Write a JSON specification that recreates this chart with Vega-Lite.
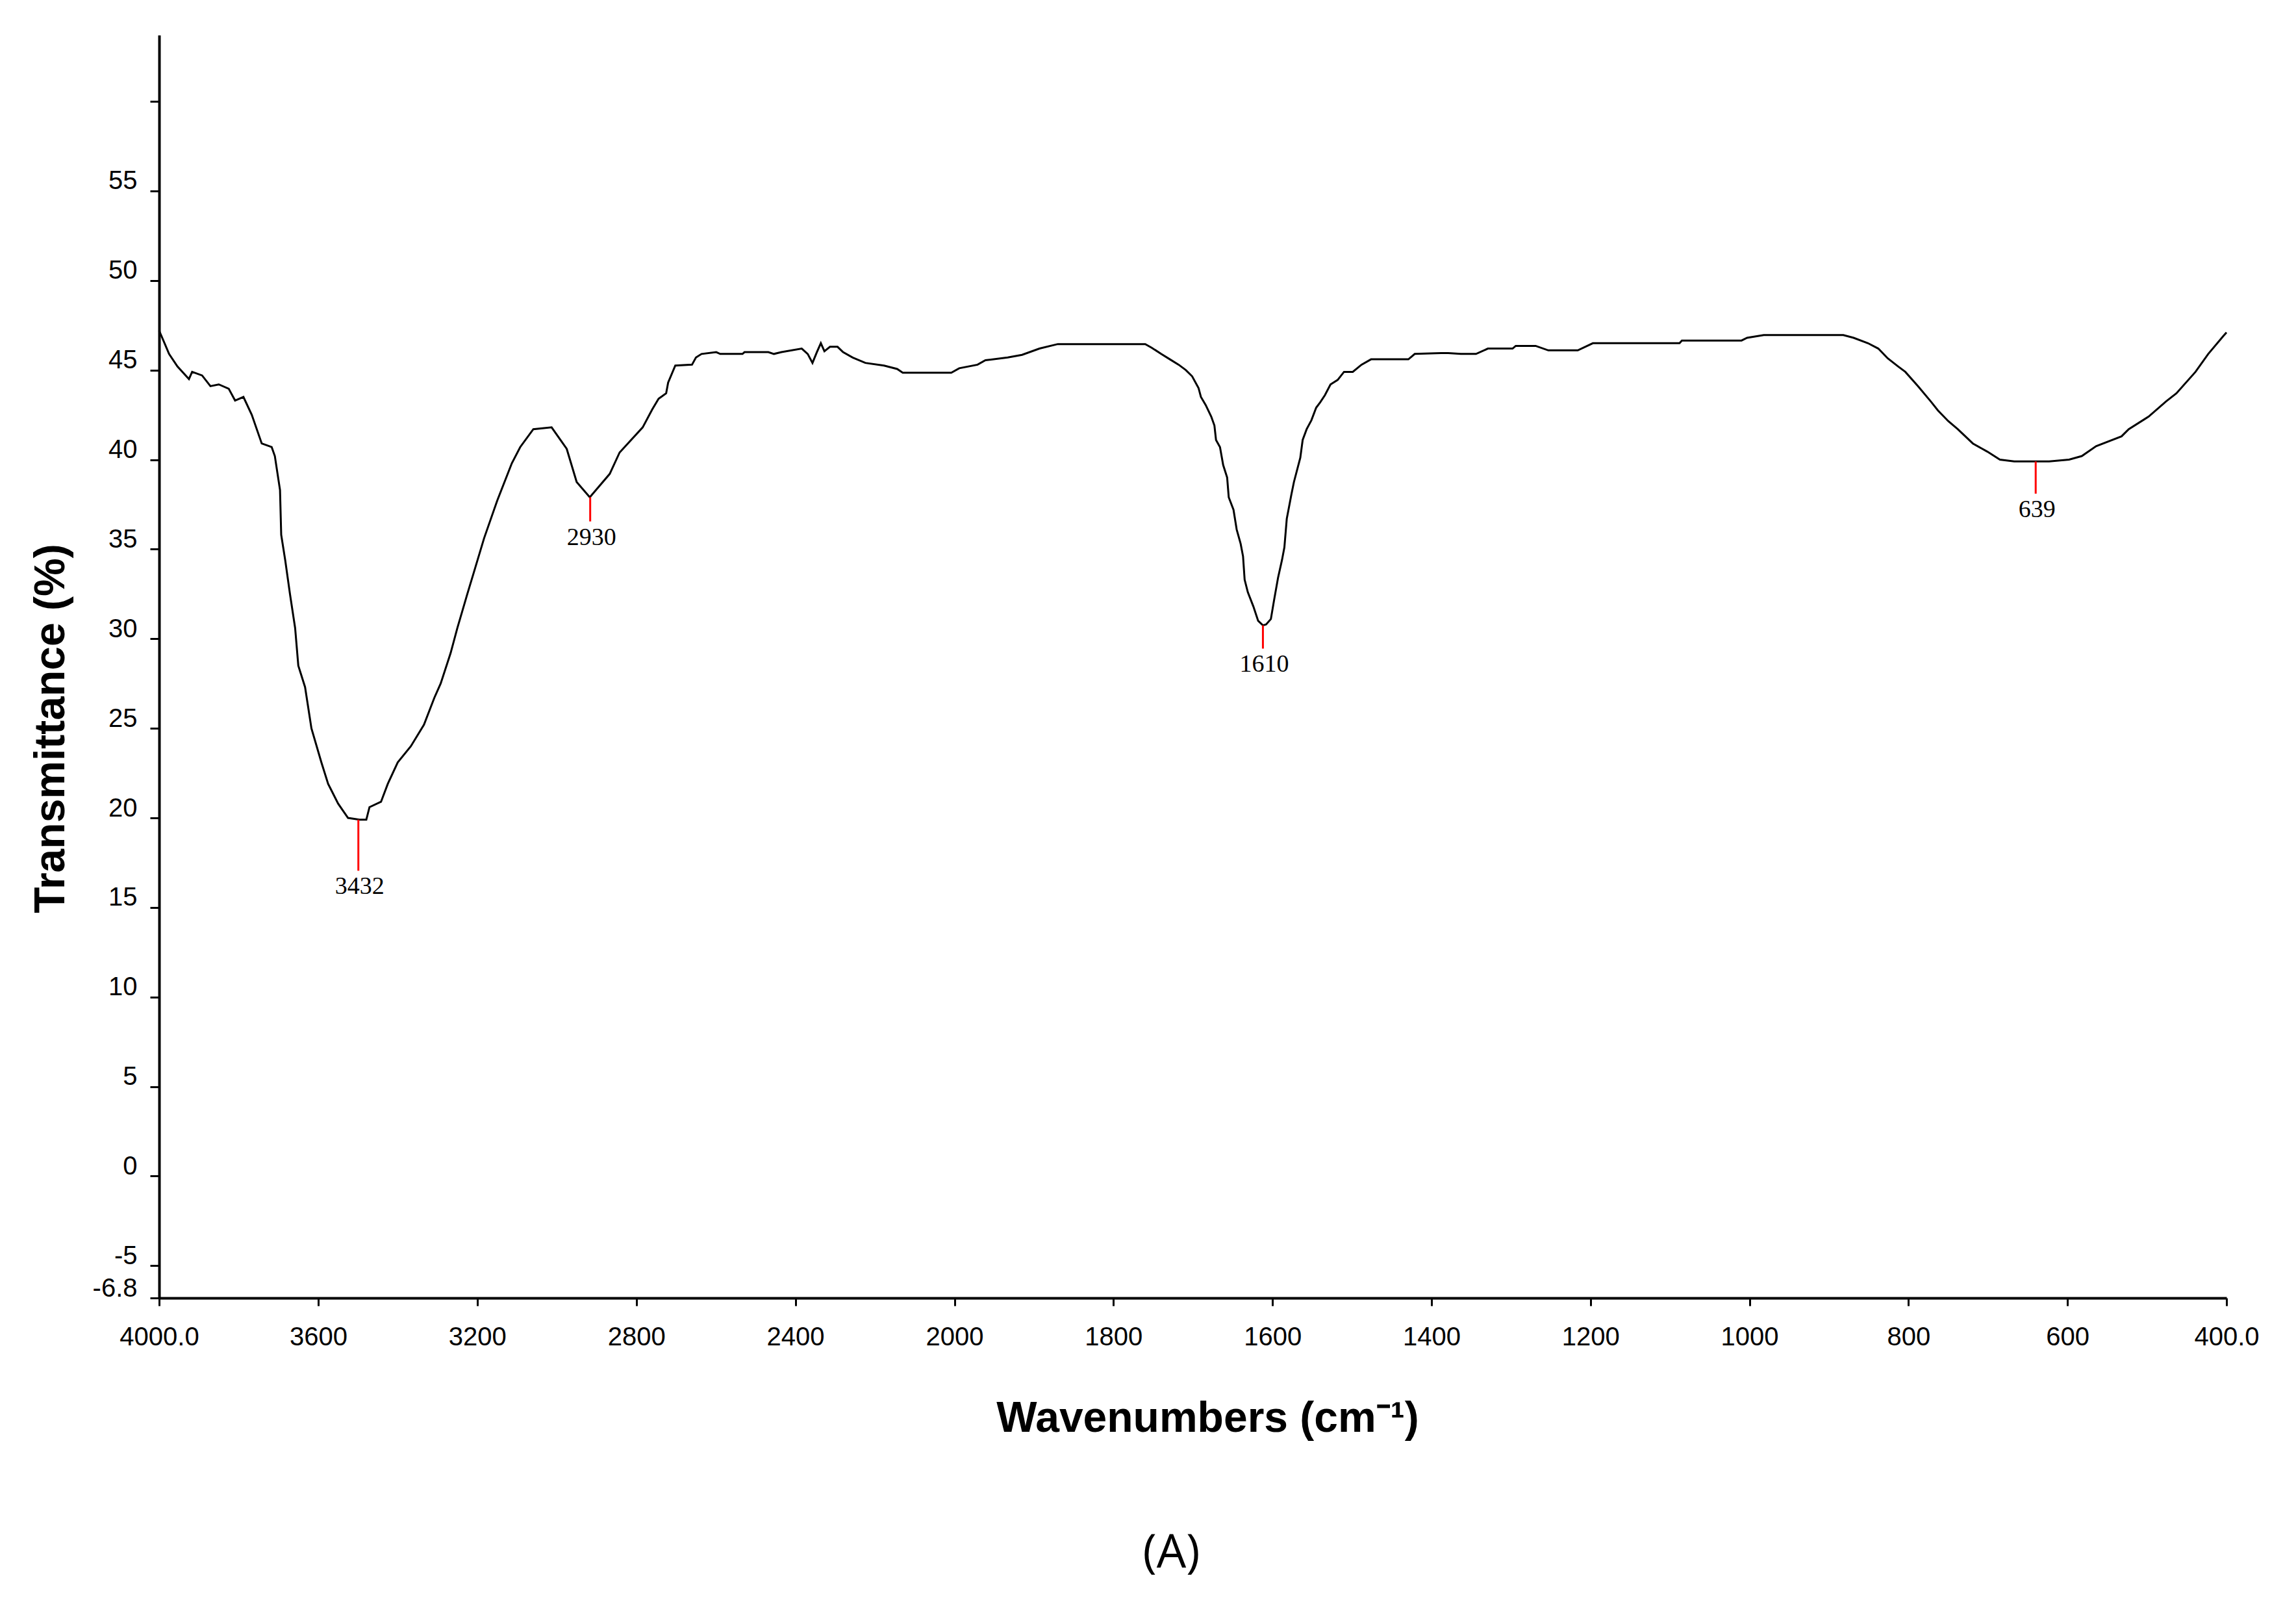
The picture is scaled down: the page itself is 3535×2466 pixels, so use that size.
{
  "$schema": "https://vega.github.io/schema/vega-lite/v6.json",
  "autosize": {"type": "none"},
  "padding": {"left": 245, "top": 54, "right": 107, "bottom": 468},
  "width": 3183,
  "height": 1944,
  "background": "white",
  "config": {
    "view": {"stroke": null},
    "axis": {
      "grid": false,
      "domainColor": "black",
      "domainWidth": 4,
      "tickColor": "black",
      "tickWidth": 3,
      "labelFont": "Liberation Sans",
      "labelFontSize": 40,
      "labelColor": "black",
      "titleFont": "Liberation Sans",
      "titleFontSize": 66,
      "titleFontWeight": "bold",
      "titleColor": "black"
    }
  },
  "title": {
    "text": "(A)",
    "orient": "bottom",
    "anchor": "middle",
    "font": "Open Sans",
    "fontSize": 72,
    "fontWeight": "normal",
    "color": "black",
    "offset": 140,
    "dx": -33
  },
  "datasets": {
    "spectrum": [
      {"wn": 4000, "t": 47.2},
      {"wn": 3996, "t": 47.0},
      {"wn": 3975, "t": 45.9},
      {"wn": 3954, "t": 45.2},
      {"wn": 3925, "t": 44.5},
      {"wn": 3917, "t": 44.9},
      {"wn": 3892, "t": 44.7},
      {"wn": 3871, "t": 44.1},
      {"wn": 3850, "t": 44.2},
      {"wn": 3825, "t": 43.96},
      {"wn": 3809, "t": 43.3},
      {"wn": 3788, "t": 43.5},
      {"wn": 3767, "t": 42.5},
      {"wn": 3742, "t": 40.9},
      {"wn": 3717, "t": 40.7},
      {"wn": 3709, "t": 40.2},
      {"wn": 3696, "t": 38.3},
      {"wn": 3693, "t": 35.8},
      {"wn": 3683, "t": 34.4},
      {"wn": 3671, "t": 32.5},
      {"wn": 3658, "t": 30.6},
      {"wn": 3650, "t": 28.5},
      {"wn": 3633, "t": 27.3},
      {"wn": 3617, "t": 25.0},
      {"wn": 3592, "t": 23.1},
      {"wn": 3575, "t": 21.9},
      {"wn": 3550, "t": 20.8},
      {"wn": 3525, "t": 20.0},
      {"wn": 3496, "t": 19.9},
      {"wn": 3479, "t": 19.9},
      {"wn": 3471, "t": 20.6},
      {"wn": 3442, "t": 20.9},
      {"wn": 3425, "t": 21.9},
      {"wn": 3400, "t": 23.1},
      {"wn": 3367, "t": 24.0},
      {"wn": 3334, "t": 25.2},
      {"wn": 3308, "t": 26.7},
      {"wn": 3292, "t": 27.5},
      {"wn": 3267, "t": 29.2},
      {"wn": 3250, "t": 30.6},
      {"wn": 3225, "t": 32.5},
      {"wn": 3208, "t": 33.75},
      {"wn": 3183, "t": 35.6},
      {"wn": 3150, "t": 37.7},
      {"wn": 3113, "t": 39.8},
      {"wn": 3092, "t": 40.7},
      {"wn": 3059, "t": 41.7},
      {"wn": 3013, "t": 41.8},
      {"wn": 2975, "t": 40.6},
      {"wn": 2950, "t": 38.75},
      {"wn": 2917, "t": 37.9},
      {"wn": 2867, "t": 39.2},
      {"wn": 2842, "t": 40.4},
      {"wn": 2784, "t": 41.8},
      {"wn": 2760, "t": 42.8},
      {"wn": 2744, "t": 43.4},
      {"wn": 2725, "t": 43.7},
      {"wn": 2720, "t": 44.3},
      {"wn": 2702, "t": 45.25},
      {"wn": 2660, "t": 45.3},
      {"wn": 2650, "t": 45.7},
      {"wn": 2636, "t": 45.9},
      {"wn": 2599, "t": 46.0},
      {"wn": 2589, "t": 45.9},
      {"wn": 2533, "t": 45.9},
      {"wn": 2528, "t": 46.0},
      {"wn": 2468, "t": 46.0},
      {"wn": 2454, "t": 45.9},
      {"wn": 2435, "t": 46.0},
      {"wn": 2384, "t": 46.2},
      {"wn": 2369, "t": 45.9},
      {"wn": 2357, "t": 45.4},
      {"wn": 2346, "t": 46.0},
      {"wn": 2336, "t": 46.5},
      {"wn": 2327, "t": 46.05},
      {"wn": 2313, "t": 46.3},
      {"wn": 2294, "t": 46.3},
      {"wn": 2280, "t": 46.0},
      {"wn": 2256, "t": 45.7},
      {"wn": 2224, "t": 45.4},
      {"wn": 2177, "t": 45.25},
      {"wn": 2144, "t": 45.06},
      {"wn": 2130, "t": 44.85},
      {"wn": 2008, "t": 44.85},
      {"wn": 1994, "t": 45.1},
      {"wn": 1971, "t": 45.3},
      {"wn": 1961, "t": 45.55},
      {"wn": 1933, "t": 45.7},
      {"wn": 1915, "t": 45.85},
      {"wn": 1893, "t": 46.2},
      {"wn": 1870, "t": 46.45},
      {"wn": 1760, "t": 46.45},
      {"wn": 1752, "t": 46.25},
      {"wn": 1740, "t": 45.9},
      {"wn": 1729, "t": 45.6},
      {"wn": 1718, "t": 45.3},
      {"wn": 1709, "t": 45.0},
      {"wn": 1701, "t": 44.65},
      {"wn": 1693, "t": 44.0},
      {"wn": 1690, "t": 43.5},
      {"wn": 1684, "t": 43.05},
      {"wn": 1677, "t": 42.4},
      {"wn": 1673, "t": 41.9},
      {"wn": 1671, "t": 41.1},
      {"wn": 1666, "t": 40.7},
      {"wn": 1662, "t": 39.7},
      {"wn": 1657, "t": 39.0},
      {"wn": 1655, "t": 37.9},
      {"wn": 1649, "t": 37.2},
      {"wn": 1645, "t": 36.1},
      {"wn": 1640, "t": 35.3},
      {"wn": 1637, "t": 34.6},
      {"wn": 1635, "t": 33.3},
      {"wn": 1631, "t": 32.6},
      {"wn": 1624, "t": 31.8},
      {"wn": 1618, "t": 31.0},
      {"wn": 1612, "t": 30.75},
      {"wn": 1608, "t": 30.8},
      {"wn": 1602, "t": 31.1},
      {"wn": 1598, "t": 32.15},
      {"wn": 1593, "t": 33.4},
      {"wn": 1588, "t": 34.4},
      {"wn": 1585, "t": 35.1},
      {"wn": 1582, "t": 36.7},
      {"wn": 1579, "t": 37.4},
      {"wn": 1576, "t": 38.1},
      {"wn": 1573, "t": 38.75},
      {"wn": 1568, "t": 39.6},
      {"wn": 1565, "t": 40.1},
      {"wn": 1562, "t": 41.1},
      {"wn": 1557, "t": 41.7},
      {"wn": 1551, "t": 42.2},
      {"wn": 1545, "t": 42.9},
      {"wn": 1540, "t": 43.2},
      {"wn": 1534, "t": 43.6},
      {"wn": 1527, "t": 44.2},
      {"wn": 1518, "t": 44.45},
      {"wn": 1510, "t": 44.9},
      {"wn": 1499, "t": 44.9},
      {"wn": 1488, "t": 45.3},
      {"wn": 1476, "t": 45.6},
      {"wn": 1429, "t": 45.6},
      {"wn": 1421, "t": 45.9},
      {"wn": 1388, "t": 45.95},
      {"wn": 1379, "t": 45.95},
      {"wn": 1363, "t": 45.9},
      {"wn": 1344, "t": 45.9},
      {"wn": 1329, "t": 46.2},
      {"wn": 1298, "t": 46.2},
      {"wn": 1294, "t": 46.35},
      {"wn": 1269, "t": 46.35},
      {"wn": 1253, "t": 46.1},
      {"wn": 1216, "t": 46.1},
      {"wn": 1197, "t": 46.5},
      {"wn": 1088, "t": 46.5},
      {"wn": 1085, "t": 46.65},
      {"wn": 1010, "t": 46.65},
      {"wn": 1003, "t": 46.8},
      {"wn": 982, "t": 46.95},
      {"wn": 882, "t": 46.95},
      {"wn": 869, "t": 46.8},
      {"wn": 851, "t": 46.5},
      {"wn": 838, "t": 46.2},
      {"wn": 826, "t": 45.65},
      {"wn": 813, "t": 45.2},
      {"wn": 804, "t": 44.9},
      {"wn": 788, "t": 44.1},
      {"wn": 772, "t": 43.25},
      {"wn": 763, "t": 42.75},
      {"wn": 750, "t": 42.15},
      {"wn": 738, "t": 41.7},
      {"wn": 719, "t": 40.9},
      {"wn": 701, "t": 40.45},
      {"wn": 685, "t": 40.0},
      {"wn": 667, "t": 39.9},
      {"wn": 623, "t": 39.9},
      {"wn": 598, "t": 40.0},
      {"wn": 582, "t": 40.2},
      {"wn": 564, "t": 40.75},
      {"wn": 532, "t": 41.3},
      {"wn": 523, "t": 41.7},
      {"wn": 498, "t": 42.4},
      {"wn": 476, "t": 43.25},
      {"wn": 463, "t": 43.7},
      {"wn": 439, "t": 44.9},
      {"wn": 423, "t": 45.9},
      {"wn": 404, "t": 46.9},
      {"wn": 400, "t": 47.1}
    ],
    "peaks": [
      {"wn": 3499, "top": 19.9, "bottom": 17.05, "label": "3432"},
      {"wn": 2916, "top": 37.9, "bottom": 36.55, "label": "2930"},
      {"wn": 1612, "top": 30.75, "bottom": 29.45, "label": "1610"},
      {"wn": 640, "top": 39.9, "bottom": 38.1, "label": "639"}
    ]
  },
  "layer": [
    {
      "data": {"name": "spectrum"},
      "mark": {"type": "line", "color": "black", "strokeWidth": 3, "interpolate": "linear"},
      "encoding": {
        "x": {
          "field": "wn",
          "type": "quantitative",
          "scale": {"domain": [4000, 2000, 400], "range": [0, 1224.5, 3183], "nice": false, "zero": false},
          "axis": {
            "values": [4000, 3600, 3200, 2800, 2400, 2000, 1800, 1600, 1400, 1200, 1000, 800, 600, 400],
            "format": "d",
            "labelExpr": "datum.value == 4000 ? '4000.0' : datum.value == 400 ? '400.0' : datum.label",
            "tickSize": 12,
            "labelBaseline": "alphabetic",
            "labelPadding": 60,
            "labelFlush": false,
            "labelOverlap": false,
            "title": "Wavenumbers (cm⁻¹)",
            "titleX": 1614,
            "titleY": 205,
            "titleAlign": "center",
            "titleBaseline": "alphabetic"
          }
        },
        "y": {
          "field": "t",
          "type": "quantitative",
          "scale": {"domain": [-6.8, 63.7], "nice": false, "zero": false},
          "axis": {
            "values": [-6.8, -5, 0, 5, 10, 15, 20, 25, 30, 35, 40, 45, 50, 55, 60],
            "labelExpr": "datum.value == 60 ? '' : datum.value == -6.8 ? '-6.8' : datum.value == -5 ? '-5' : datum.label",
            "tickSize": 14,
            "labelPadding": 20,
            "labelBaseline": "alphabetic",
            "labelOffset": -3,
            "labelFlush": false,
            "labelOverlap": false,
            "title": "Transmittance (%)",
            "titleX": -147,
            "titleY": 1067,
            "titleAngle": -90,
            "titleAlign": "center",
            "titleBaseline": "alphabetic"
          }
        }
      }
    },
    {
      "data": {"name": "peaks"},
      "mark": {"type": "rule", "color": "#ff0000", "strokeWidth": 3},
      "encoding": {
        "x": {"field": "wn", "type": "quantitative"},
        "y": {"field": "top", "type": "quantitative"},
        "y2": {"field": "bottom"}
      }
    },
    {
      "data": {"name": "peaks"},
      "mark": {"type": "text", "font": "Liberation Serif", "fontSize": 38, "color": "black", "baseline": "top", "align": "center", "dy": 6, "dx": 2},
      "encoding": {
        "x": {"field": "wn", "type": "quantitative"},
        "y": {"field": "bottom", "type": "quantitative"},
        "text": {"field": "label"}
      }
    }
  ]
}
